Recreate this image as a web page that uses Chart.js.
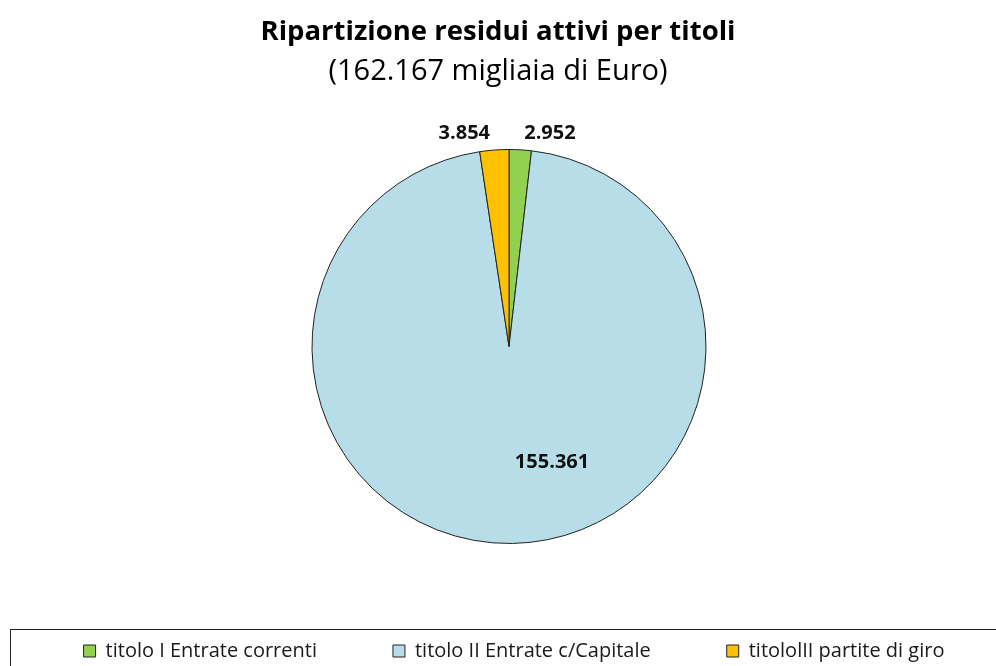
<!DOCTYPE html>
<html><head><meta charset="utf-8">
<script src="https://cdn.jsdelivr.net/npm/chart.js@4.4.1/dist/chart.umd.min.js"></script>
<style>html,body{margin:0;padding:0;background:#fff;overflow:hidden}</style>
</head><body><canvas id="c" width="996" height="666"></canvas>
<script>
const categories = ['titolo I Entrate correnti', 'titolo II Entrate c/Capitale', 'titololII partite di giro'];
const values = [2952, 155361, 3854];
const colors = ['#92D050', '#B7DDE8', '#FFC000'];
const titleText = 'Ripartizione residui attivi per titoli';
const subtitleText = '(162.167 migliaia di Euro)';

const FONT = '"Open Sans"';
function fmt(v) { return String(v).replace(/\B(?=(\d{3})+(?!\d))/g, '.'); }

const labelPlugin = {
  id: 'sliceLabels',
  afterDatasetsDraw(chart, args, opts) {
    const ctx = chart.ctx;
    const meta = chart.getDatasetMeta(0);
    const data = chart.data.datasets[0].data;
    const total = data.reduce((a, b) => a + b, 0);
    ctx.save();
    ctx.font = `bold ${opts.size}px ${FONT}`;
    ctx.fillStyle = '#111';
    ctx.textBaseline = 'middle';
    meta.data.forEach((arc, i) => {
      const p = arc.getProps(['x', 'y', 'startAngle', 'endAngle', 'outerRadius'], true);
      const mid = (p.startAngle + p.endAngle) / 2;
      const txt = fmt(data[i]);
      if (data[i] / total < 0.1) {
        const r = p.outerRadius + opts.outside;
        const ax = p.x + Math.cos(mid) * r, ay = p.y + Math.sin(mid) * r;
        if (Math.cos(mid) >= 0) { ctx.textAlign = 'left'; ctx.fillText(txt, ax + opts.gap, ay); }
        else { ctx.textAlign = 'right'; ctx.fillText(txt, ax - opts.gap, ay); }
      } else {
        const r = p.outerRadius * opts.inside;
        ctx.textAlign = 'center';
        ctx.fillText(txt, p.x + Math.cos(mid) * r + opts.insideDx, p.y + Math.sin(mid) * r);
      }
    });
    ctx.restore();
  }
};

const shiftPlugin = {
  id: 'shift',
  afterLayout(chart, args, opts) {
    chart.chartArea.left += opts.pieShift;
    chart.chartArea.width -= opts.pieShift;
    if (chart.legend) chart.legend.left += opts.legendShift;
  }
};

const legendFramePlugin = {
  id: 'legendFrame',
  afterDraw(chart, args, opts) {
    const ctx = chart.ctx;
    ctx.save();
    ctx.strokeStyle = '#222';
    ctx.lineWidth = 1;
    ctx.strokeRect(opts.x + 0.5, opts.y + 0.5, 1200, 200);
    ctx.restore();
  }
};

new Chart(document.getElementById('c'), {
  type: 'pie',
  data: {
    labels: categories,
    datasets: [{
      data: values,
      backgroundColor: colors,
      borderColor: '#222',
      borderWidth: 1,
      radius: 197
    }]
  },
  options: {
    responsive: false,
    animation: false,
    layout: { padding: { left: -60, right: -60, top: 0, bottom: 0 } },
    plugins: {
      title: {
        display: true, text: titleText, color: '#000',
        font: { family: FONT, size: 27.5, weight: 'bold' },
        padding: { top: 16, bottom: 0 }
      },
      subtitle: {
        display: true, text: subtitleText, color: '#000',
        font: { family: FONT, size: 29, weight: 'normal' },
        padding: { top: 5.6, bottom: 38.6 }
      },
      legend: {
        position: 'bottom',
        maxHeight: 101,
        labels: {
          font: { family: FONT, size: 20 },
          color: '#1a1a1a',
          boxWidth: 12, boxHeight: 12,
          padding: 76
        }
      },
      tooltip: { enabled: false },
      sliceLabels: { size: 20, outside: 17, gap: 3, inside: 0.59, insideDx: 41 },
      shift: { pieShift: 22, legendShift: 32 },
      legendFrame: { x: 10, y: 629 }
    }
  },
  plugins: [shiftPlugin, labelPlugin, legendFramePlugin]
});
</script>
</body></html>
